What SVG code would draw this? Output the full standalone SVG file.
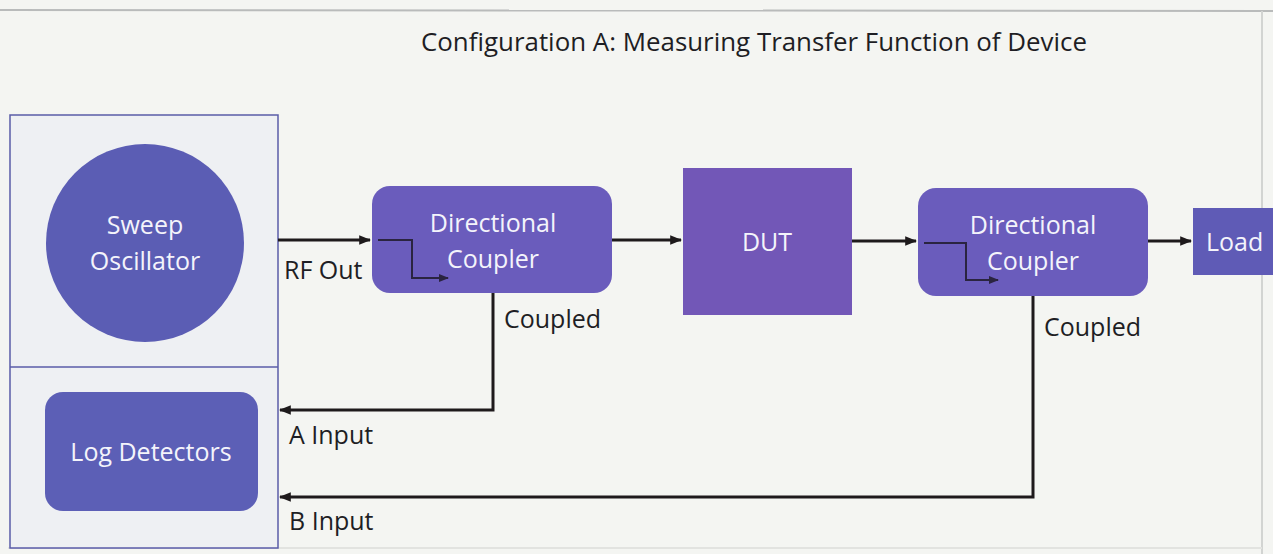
<svg xmlns="http://www.w3.org/2000/svg" width="1273" height="554" viewBox="0 0 1273 554">
<defs>
<style>
.lbl{font-family:"Open Sans","Liberation Sans",sans-serif;font-size:25px;fill:#1e1e24}
.wt{font-family:"Open Sans","Liberation Sans",sans-serif;font-size:25px;fill:#f4f4fb;text-anchor:middle}
.ln{fill:none;stroke:#1e1a1c;stroke-width:3}
.inn{fill:none;stroke:#2a2440;stroke-width:2}
.blk{fill:#6a5cbc}
</style>
<marker id="ah" viewBox="0 0 10 10" refX="9" refY="5" markerWidth="4" markerHeight="4" orient="auto-start-reverse" markerUnits="strokeWidth"><path d="M0,1 L10,5 L0,9 z" fill="#1e1a1c"/></marker>
<marker id="ahs" viewBox="0 0 10 10" refX="9" refY="5" markerWidth="5" markerHeight="5" orient="auto" markerUnits="strokeWidth"><path d="M0,1 L10,5 L0,9 z" fill="#2a2440"/></marker>
</defs>
<rect x="0" y="0" width="1273" height="554" fill="#f4f5f2"/>
<line x1="0" y1="10" x2="1273" y2="11" stroke="#b9bbbb" stroke-width="2"/>
<line x1="1262" y1="11" x2="1262" y2="554" stroke="#d2d4d2" stroke-width="2"/>
<line x1="8" y1="548" x2="1262" y2="548" stroke="#e2e3e0" stroke-width="2"/>
<text x="754" y="51" class="lbl" text-anchor="middle" textLength="666" lengthAdjust="spacingAndGlyphs">Configuration A: Measuring Transfer Function of Device</text>
<g id="instrument">
<rect x="10" y="115" width="268" height="433" fill="#eef0f3" stroke="#5a5ca8" stroke-width="1.5"/>
<line x1="10" y1="367" x2="278" y2="367" stroke="#5a5ca8" stroke-width="1.5"/>
</g>
<g id="sweep">
<circle cx="145" cy="243" r="99" fill="#5b5db4"/>
<text x="145" y="234" class="wt">Sweep</text>
<text x="145" y="270" class="wt">Oscillator</text>
</g>
<g id="logdet">
<rect x="45" y="392" width="213" height="119" rx="18" fill="#5c5fb6"/>
<text x="151" y="461" class="wt">Log Detectors</text>
</g>
<g id="coupler1">
<rect x="372" y="186" width="240" height="107" rx="18" class="blk"/>
<text x="493" y="232" class="wt">Directional</text>
<text x="493" y="268" class="wt">Coupler</text>
<polyline points="378,240 412,240 412,278 448,278" class="inn" marker-end="url(#ahs)"/>
</g>
<g id="dut">
<rect x="683" y="168" width="169" height="147" fill="#7257b7"/>
<text x="767" y="251" class="wt">DUT</text>
</g>
<g id="coupler2">
<rect x="918" y="188" width="230" height="108" rx="18" class="blk"/>
<text x="1033" y="234" class="wt">Directional</text>
<text x="1033" y="270" class="wt">Coupler</text>
<polyline points="924,243 966,243 966,280 998,280" class="inn" marker-end="url(#ahs)"/>
</g>
<g id="load">
<rect x="1193" y="208" width="82" height="67" fill="#5f5bb6"/>
<text x="1206" y="251" class="wt" style="text-anchor:start">Load</text>
</g>
<g id="connectors">
<line x1="278" y1="240" x2="370" y2="240" class="ln" marker-end="url(#ah)"/>
<line x1="612" y1="240" x2="681" y2="240" class="ln" marker-end="url(#ah)"/>
<line x1="852" y1="241" x2="916" y2="241" class="ln" marker-end="url(#ah)"/>
<line x1="1148" y1="241" x2="1191" y2="241" class="ln" marker-end="url(#ah)"/>
<polyline points="493,293 493,410 280,410" class="ln" marker-end="url(#ah)"/>
<polyline points="1033,296 1033,497 280,497" class="ln" marker-end="url(#ah)"/>
</g>
<g id="labels">
<text x="284" y="279" class="lbl">RF Out</text>
<text x="504" y="328" class="lbl">Coupled</text>
<text x="1044" y="336" class="lbl">Coupled</text>
<text x="289" y="444" class="lbl">A Input</text>
<text x="289" y="530" class="lbl">B Input</text>
</g>
</svg>
